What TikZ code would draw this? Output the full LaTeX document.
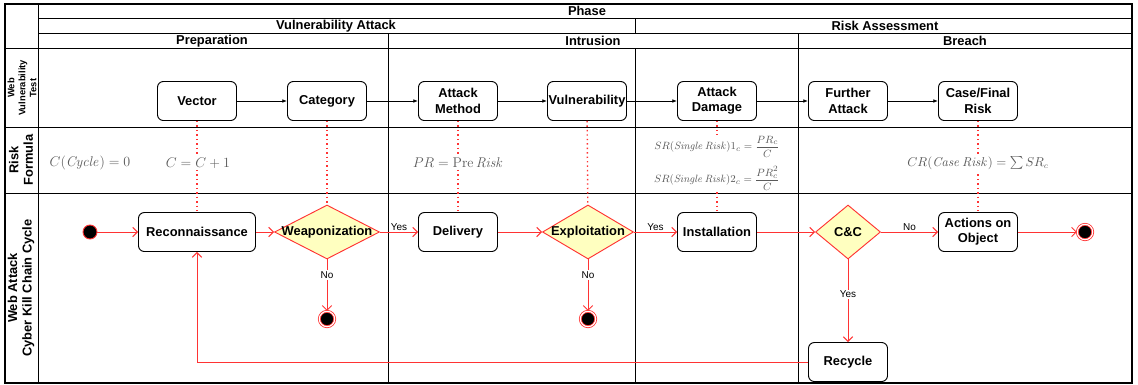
\documentclass[tikz,border=0pt]{standalone}
\usepackage[no-math]{fontspec}
\usepackage{amsmath}
\usetikzlibrary{arrows.meta,shapes.geometric,positioning}
\newfontfamily\lsans{Liberation Sans}
\definecolor{flowred}{HTML}{FF3333}
\definecolor{decfill}{HTML}{FFFFC0}
\definecolor{formgray}{HTML}{5A5A5A}
\tikzset{
  grid/.style={line width=0.8pt},
  frame/.style={line width=1.4pt},
  hdr/.style={
    font=\lsans\bfseries\fontsize{11}{12}\selectfont,
    inner sep=0pt
  },
  lanelbl/.style={
    rotate=90,
    align=center,
    inner sep=0pt,
    font=\lsans\bfseries\fontsize{11}{12.5}\selectfont
  },
  stagebox/.style={
    shape = rectangle,
    draw,
    fill = white,
    rounded corners = 5pt,
    line width = 0.8pt,
    minimum width = 2.37cm,
    minimum height = 1.17cm,
    inner xsep = 0.5pt,
    align = center,
    font = \lsans\bfseries\fontsize{11}{13}\selectfont
  },
  decision/.style={
    diamond,
    draw = flowred,
    fill = decfill,
    line width = 0.8pt,
    inner sep = 0pt,
    minimum height = 1.62cm,
    label = {[font=\lsans\bfseries\fontsize{11}{13}\selectfont]center:#1}
  },
  startpt/.style={
    circle,
    fill = black,
    draw = flowred,
    line width = 0.8pt,
    minimum size = 0.42cm,
    inner sep = 0pt
  },
  endpt/.style={
    circle,
    fill = black,
    draw = flowred,
    double = white,
    double distance = 1pt,
    line width = 0.7pt,
    minimum size = 0.46cm,
    inner sep = 0pt
  },
  formula/.style={
    text = formgray,
    fill = white,
    inner sep = 1pt,
    font = \fontsize{13}{15}\selectfont
  },
  yn/.style={
    font = \lsans\fontsize{8.5}{10}\selectfont,
    inner sep = 1pt
  },
  testflow/.style={line width=0.6pt, -{Latex[length=4pt,width=3pt]}},
  flow/.style={draw=flowred, line width=0.8pt, -{Straight Barb[length=4pt,width=8pt]}},
  link/.style={draw=flowred, line width=1.2pt, dash pattern=on 1.2pt off 2.6pt}
}

\begin{document}
\begin{tikzpicture}[x=0.03cm,y=-0.03cm]
    \useasboundingbox (0,0) rectangle (1138,384);
    % table
    \draw[frame] (5,4) rectangle (1132,383);
    \draw[grid] (38,4)--(38,383);
    \draw[grid] (38,18)--(1132,18);
    \draw[grid] (38,33)--(1132,33);
    \draw[grid] (5,48)--(1132,48);
    \draw[grid] (5,127)--(1132,127);
    \draw[grid] (5,193)--(1132,193);
    \draw[grid] (635,18)--(635,33);
    \draw[grid] (635,48)--(635,383);
    \draw[grid] (388,33)--(388,383);
    \draw[grid] (798,33)--(798,383);
    \node[hdr] (phase) at (587,11) {Phase};
    \node[hdr] (vattack) at (336,26) {Vulnerability Attack};
    \node[hdr] (rassess) at (885,26) {Risk Assessment};
    \node[hdr] (prep) at (212,41) {Preparation};
    \node[hdr] (intrusion) at (593,41) {Intrusion};
    \node[hdr] (breach) at (965,41) {Breach};
    \node[lanelbl, font=\lsans\bfseries\fontsize{8}{9.4}\selectfont] (lanetest) at (22,88) {Web\\Vulnerability\\Test};
    \node[lanelbl] (laneformula) at (21,160) {Risk\\Formula};
    \node[lanelbl] (lanecycle) at (21,288) {Web Attack\\Cyber Kill Chain Cycle};
    % web vulnerability test
    \node[stagebox] (vector) at (197,101) {Vector};
    \node[stagebox] (category) at (327,101) {Category};
    \node[stagebox] (amethod) at (458,101) {Attack\\Method};
    \node[stagebox] (vuln) at (587,101) {Vulnerability};
    \node[stagebox] (adamage) at (717,101) {Attack\\Damage};
    \node[stagebox] (further) at (848,101) {Further\\Attack};
    \node[stagebox] (casefinal) at (978,101) {Case/Final\\Risk};
    % kill chain
    \node[startpt] (start) at (90,232) {};
    \node[stagebox, minimum width=3.51cm] (recon) at (197,232) {Reconnaissance};
    \node[decision=Weaponization, minimum width=3.15cm] (weap) at (327,232) {};
    \node[stagebox] (delivery) at (458,232) {Delivery};
    \node[decision=Exploitation, minimum width=2.73cm] (exploit) at (588,232) {};
    \node[stagebox] (install) at (717,232) {Installation};
    \node[decision={C\&C}, minimum width=1.95cm] (cc) at (848,232) {};
    \node[stagebox] (actions) at (978,232) {Actions on\\Object};
    \node[endpt] (endright) at (1085,232) {};
    \node[endpt] (endweap) at (327,319) {};
    \node[endpt] (endexploit) at (588,319) {};
    \node[stagebox] (recycle) at (848,362) {Recycle};
    \draw[link] (vector) -- (recon);
    \draw[link] (category) -- (weap);
    \draw[link] (amethod) -- (delivery);
    \draw[link] (vuln) -- (exploit);
    \draw[link] (adamage) -- (install);
    \draw[link] (casefinal) -- (actions);
    % risk formula
    \node[formula] (fcycle) at (90,163) {$C(\mathit{Cycle})=0$};
    \node[formula] (fcount) at (198,163) {$C=C+1$};
    \node[formula] (fpre) at (458,163) {$PR=\mathrm{Pre}\,\mathit{Risk}$};
    \node[formula, align=center, font=\fontsize{9.5}{11}\selectfont] (fsingle) at (717,163)
      {$SR(\mathit{Single\,Risk})1_c=\dfrac{PR_c}{C}$\\[7pt]$SR(\mathit{Single\,Risk})2_c=\dfrac{PR_c^2}{C}$};
    \node[formula, font=\fontsize{10.5}{13}\selectfont] (fcase) at (978,163) {$CR(\mathit{Case\,Risk})=\sum SR_c$};
    \draw[testflow] (vector) -- (category);
    \draw[testflow] (category) -- (amethod);
    \draw[testflow] (amethod) -- (vuln);
    \draw[testflow] (vuln) -- (adamage);
    \draw[testflow] (adamage) -- (further);
    \draw[testflow] (further) -- (casefinal);
    \draw[flow] (start) -- (recon);
    \draw[flow] (recon) -- (weap);
    \draw[flow] (weap) -- node[yn, above] {Yes} (delivery);
    \draw[flow] (delivery) -- (exploit);
    \draw[flow] (exploit) -- node[yn, above] {Yes} (install);
    \draw[flow] (install) -- (cc);
    \draw[flow] (cc) -- node[yn, above] {No} (actions);
    \draw[flow] (actions) -- (endright);
    \draw[flow] (weap) -- node[yn, fill=white, pos=0.3] {No} (endweap);
    \draw[flow] (exploit) -- node[yn, fill=white, pos=0.3] {No} (endexploit);
    \draw[flow] (cc) -- node[yn, fill=white, pos=0.42] {Yes} (recycle);
    \draw[flow] (recycle) -| (recon);
\end{tikzpicture}
\end{document}
